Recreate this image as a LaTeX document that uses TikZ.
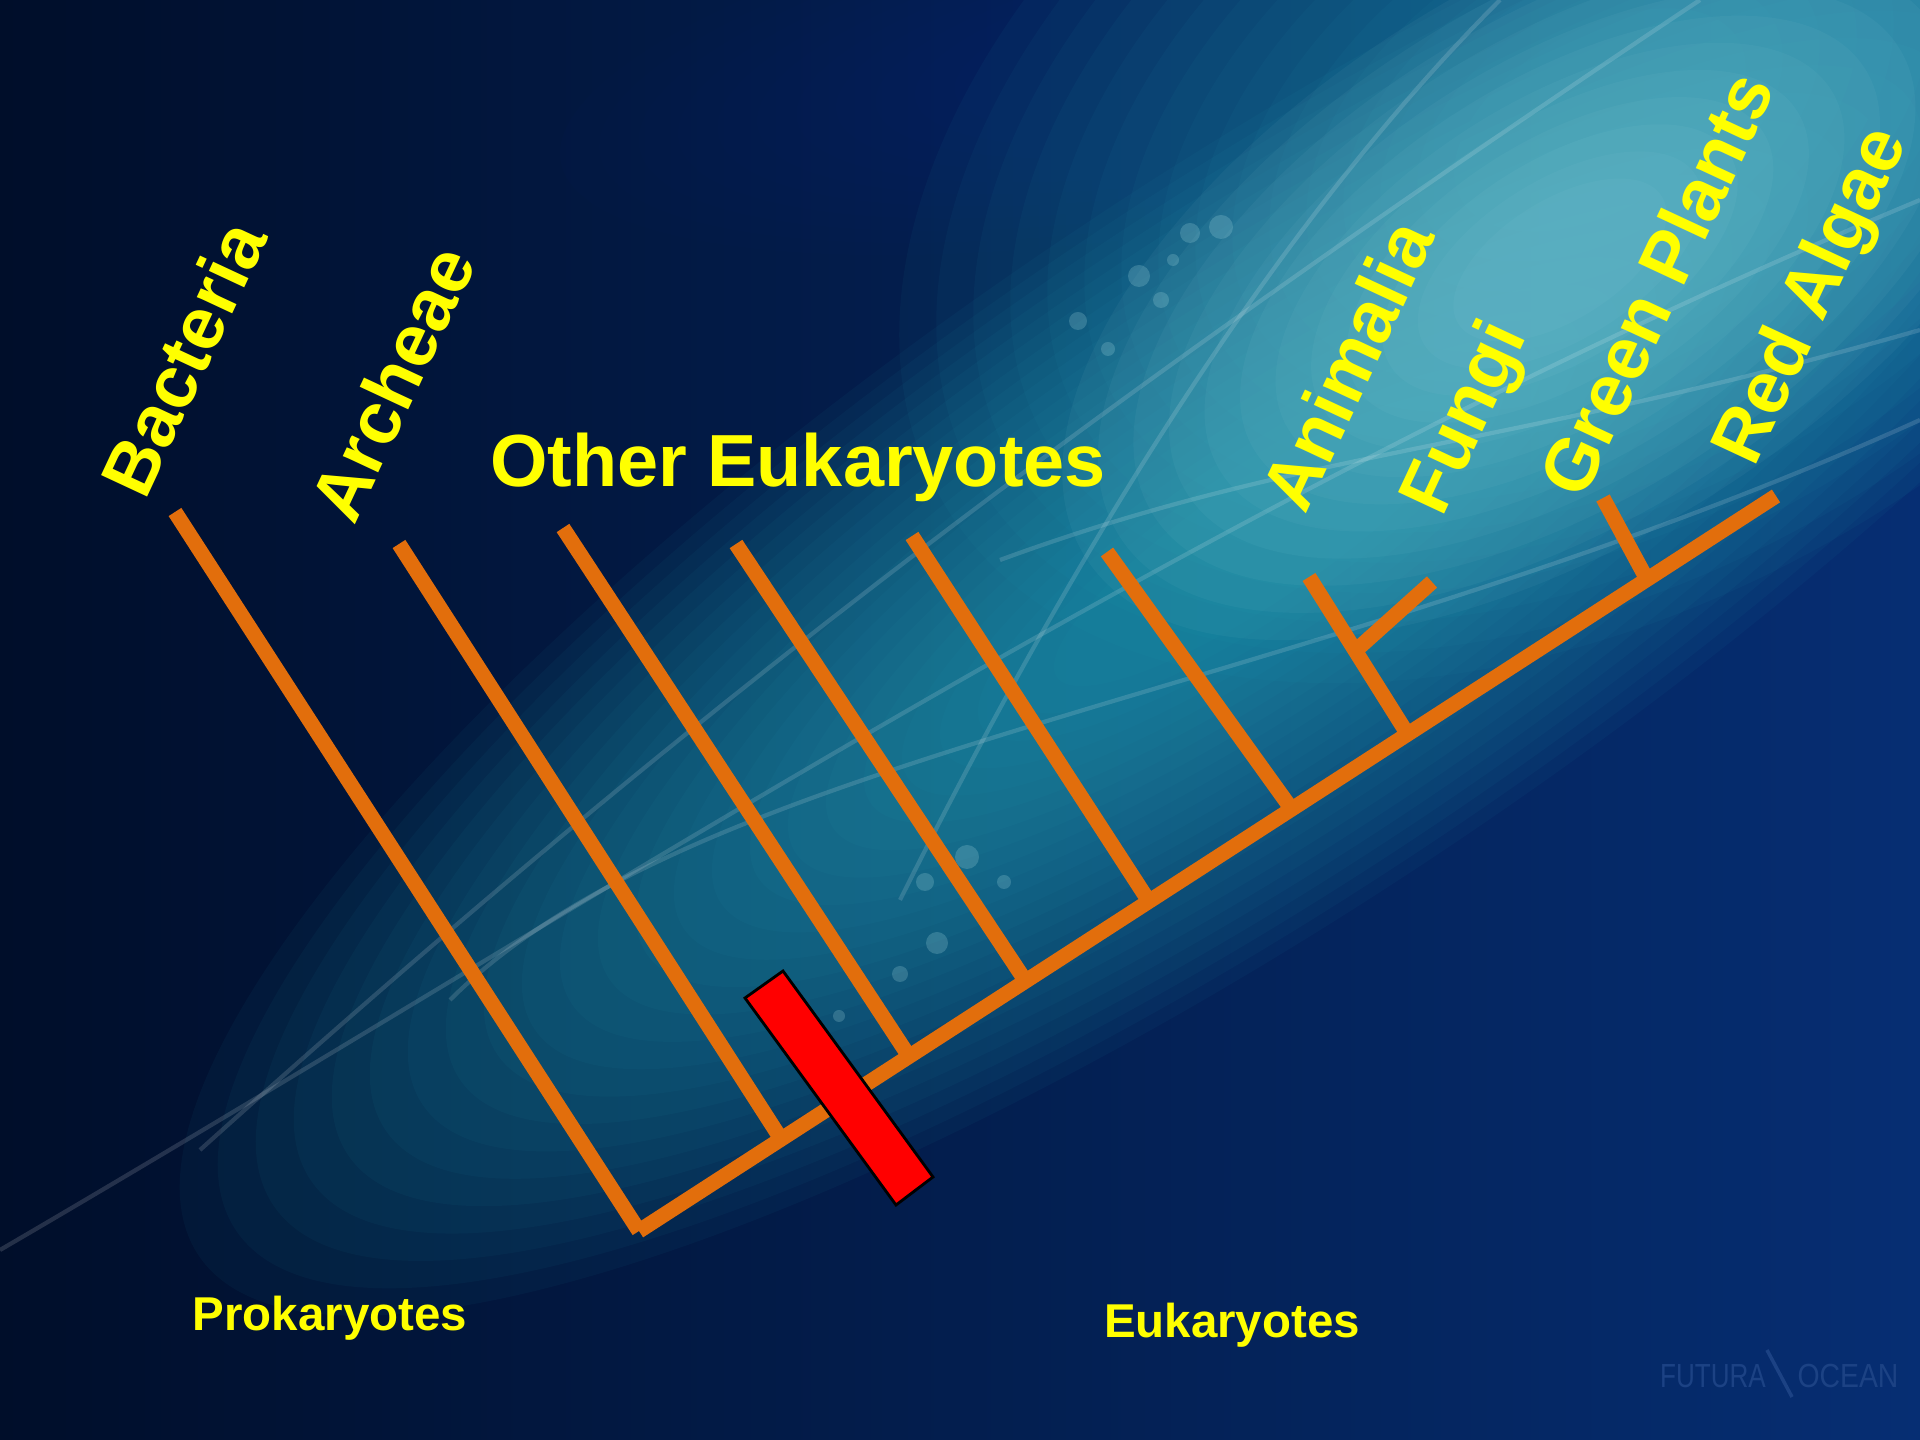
\documentclass[tikz,border=0pt]{standalone}
\usepackage{fontspec}
\setmainfont{Liberation Sans}
\usetikzlibrary{calc}
\definecolor{branchorange}{RGB}{226,110,12}
\definecolor{labelyellow}{RGB}{255,255,0}
\definecolor{deepnavy}{RGB}{0,14,42}
\definecolor{midnavy}{RGB}{6,46,115}
\definecolor{glowteal}{RGB}{40,170,190}
\definecolor{glowwhite}{RGB}{175,225,230}
\definecolor{markblue}{RGB}{28,66,132}

\begin{document}
\begin{tikzpicture}[x=0.01cm, y=-0.01cm,
    branch/.style={draw=branchorange, line width=4.3pt},
    taxon/.style={text=labelyellow, font=\bfseries\fontsize{21}{24}\selectfont, inner sep=0pt, rotate=65},
    group/.style={text=labelyellow, font=\bfseries\fontsize{13.5}{16}\selectfont, inner sep=0pt},
    streak/.style={draw=white, opacity=0.14, line width=1.2pt},
    bokeh/.style={fill=glowwhite, opacity=0.22}]
        \useasboundingbox (0,0) rectangle (1920,1440);
        % background
        \shade[left color=deepnavy, right color=midnavy] (0,0) rectangle (1920,1440);
        \foreach \k in {0,...,15}
            \fill[midnavy, opacity=0.04, rotate around={10:(1250,40)}] (1250,40) ellipse ({700-40*\k} and {180-10*\k});
        \foreach \k in {0,...,23}
            \fill[glowteal, opacity=0.05, rotate around={34:(1260,540)}] (1260,540) ellipse ({1280-45*\k} and {360-13*\k});
        \foreach \k in {0,...,15}
            \fill[glowteal, opacity=0.05, rotate around={30:(1600,120)}] (1600,120) ellipse ({760-40*\k} and {480-26*\k});
        \foreach \k in {0,...,11}
            \fill[glowwhite, opacity=0.05, rotate around={32:(1560,260)}] (1560,260) ellipse ({560-40*\k} and {280-20*\k});
        \draw[streak] (0,1250) .. controls (600,900) and (1200,500) .. (1920,200);
        \draw[streak] (200,1150) .. controls (700,700) and (1100,400) .. (1700,0);
        \draw[streak] (450,1000) .. controls (700,750) and (1300,700) .. (1920,420);
        \draw[streak] (900,900) .. controls (1100,500) and (1300,200) .. (1500,0);
        \draw[streak] (1000,560) .. controls (1300,450) and (1500,450) .. (1920,330);
        \foreach \x/\y/\r in {1078/321/9, 1108/349/7, 1139/276/11, 1161/300/8, 1190/233/10, 1221/227/12, 1173/260/6,
                              937/943/11, 900/974/8, 967/857/12, 1004/882/7, 925/882/9, 839/1016/6}
            \fill[bokeh] (\x,\y) circle (\r);
        % tree
        \coordinate (root) at (639,1231);
        \coordinate (tipbac) at (175,512);
        \coordinate (tipred) at (1776,496);
        \coordinate (basearc) at ($(root)!0.125!(tipred)$);
        \coordinate (baseeu1) at ($(root)!0.2375!(tipred)$);
        \coordinate (baseeu2) at ($(root)!0.340!(tipred)$);
        \coordinate (baseeu3) at ($(root)!0.4485!(tipred)$);
        \coordinate (baseeu4) at ($(root)!0.574!(tipred)$);
        \coordinate (baseani) at ($(root)!0.676!(tipred)$);
        \coordinate (basegre) at ($(root)!0.8865!(tipred)$);
        \coordinate (tiparc) at (399,544);
        \coordinate (tipeu1) at (563,528);
        \coordinate (tipeu2) at (736,544);
        \coordinate (tipeu3) at (912,536);
        \coordinate (tipeu4) at (1107,552);
        \coordinate (tipani) at (1309,577);
        \coordinate (basefun) at ($(baseani)!0.53!(tipani)$);
        \coordinate (tipfun) at (1432,582);
        \coordinate (tipgre) at (1603,498);
        \draw[branch] (root)--(tipbac);
        \draw[branch] (root)--(tipred);
        \draw[branch] (basearc)--(tiparc);
        \draw[branch] (baseeu1)--(tipeu1);
        \draw[branch] (baseeu2)--(tipeu2);
        \draw[branch] (baseeu3)--(tipeu3);
        \draw[branch] (baseeu4)--(tipeu4);
        \draw[branch] (baseani)--(tipani);
        \draw[branch] (basefun)--(tipfun);
        \draw[branch] (basegre)--(tipgre);
        % red bar
        \coordinate (barA) at (745,998);
        \coordinate (barB) at (783,971);
        \coordinate (barC) at (933,1177);
        \coordinate (barD) at (896,1205);
        \filldraw[fill=red, draw=black, line width=0.8pt] (barA)--(barB)--(barC)--(barD)--cycle;
        % labels
        \node[taxon] (bac) at (183,358) {Bacteria};
        \node[taxon] (arc) at (392,383) {Archeae};
        \node[taxon, rotate=-65, anchor=base] (oth) at (798,487) {Other Eukaryotes};
        \node[taxon] (ani) at (1347,365) {Animalia};
        \node[taxon] (fun) at (1468,419) {Fungi};
        \node[taxon] (gre) at (1656,284) {Green Plants};
        \node[taxon] (red) at (1814,297) {Red Algae};
        \node[group, anchor=base] (pro) at (330,1331) {Prokaryotes};
        \node[group, anchor=base] (euk) at (1232,1337) {Eukaryotes};
        % watermark
        \node[text=markblue, font=\fontsize{9.5}{10}\selectfont, xscale=0.78, anchor=base] (futura) at (1713,1387) {FUTURA};
        \node[text=markblue, font=\fontsize{9.5}{10}\selectfont, xscale=0.85, anchor=base] (ocean) at (1848,1387) {OCEAN};
        \coordinate (slashtop) at (1767,1350);
        \coordinate (slashbot) at (1792,1397);
        \draw[markblue, line width=1pt] (slashtop)--(slashbot);
    \end{tikzpicture}
\end{document}
